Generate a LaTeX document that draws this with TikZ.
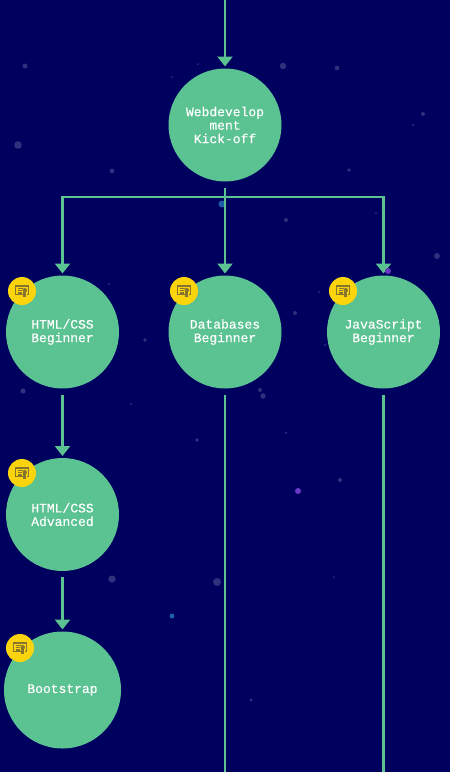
\documentclass[tikz,border=0pt]{standalone}
\usepackage{fontspec}
\usetikzlibrary{arrows.meta}
\setmonofont[FakeBold=0.2]{Liberation Mono}
\definecolor{sky}{HTML}{00005F}
\definecolor{dust}{HTML}{30307E}
\definecolor{leaf}{HTML}{5BC292}
\definecolor{gold}{HTML}{FBD40B}
\definecolor{glyph}{HTML}{85752F}
\definecolor{bluespeck}{HTML}{1C5FA8}
\definecolor{violetspeck}{HTML}{6A38C4}
\tikzset{
	course/.style={circle,fill=leaf,draw=none,text=white,align=center,minimum size=113pt,inner sep=0pt,outer sep=2pt,
		font=\fontsize{13}{13.5}\selectfont\ttfamily},
	badge/.style={circle,fill=gold,draw=none,minimum size=28pt,inner sep=0pt},
	link/.style={color=leaf,line width=2.4pt},
	arrowlink/.style={link,-{Triangle[width=15pt,length=10pt]}},
	certificate/.pic={
		\draw[glyph,line width=1.3pt] (1,3.5) -- (-6.5,3.5) -- (-6.5,-5) -- (6.5,-5) -- (6.5,3.5) -- (4.5,3.5);
		\draw[glyph,line width=1.2pt] (-4.5,-2.5) -- (1,-2.5) (-4.5,-0.2) -- (-0.5,-0.2) (-4.5,2) -- (-0.5,2);
		\fill[glyph] (2.8,-0.8) circle (2.2pt);
		\fill[glyph] (1.4,0) rectangle (4.2,6);
	}
}
\begin{document}
\begin{tikzpicture}[x=1pt,y=-1pt]
	\useasboundingbox (0,0) rectangle (450,772);
	\fill[sky] (0,0) rectangle (450,772);
	
	% background specks
	\foreach \px/\py/\pr in {25/66/2.5,283/66/3.2,337/68/2.3,18/145/3.8,112/171/2.4,349/170/1.8,423/114/2,413/125/1.2,172/77/1,198/64/1,286/220/2,376/213/1,437/256/3,109/284/1.2,145/340/1.8,295/313/2,319/292/1,325/345/1.2,23/391/2.7,131/404/1.2,260/390/2,263/396/2.6,197/440/1.8,286/433/1.2,340/480/2,112/579/3.6,217/582/4,334/577/1,251/700/1.6}
		\fill[dust] (\px,\py) circle (\pr pt);
	\fill[bluespeck] (222,204) circle (3.5pt);
	\fill[bluespeck] (172,616) circle (2.5pt);
	\fill[violetspeck] (298,491) circle (3pt);
	
	\node (KO)[course] at (225,125) {Webdevelop\\ment\\Kick-off};
	\node (HB)[course] at (62.5,332) {HTML/CSS\\Beginner};
	\node (DB)[course] at (225,332) {Databases\\Beginner};
	\node (JS)[course] at (383.5,332) {JavaScript\\Beginner};
	\node (HA)[course] at (62.5,514.5) {HTML/CSS\\Advanced};
	\node (BS)[course,minimum size=117pt] at (62.5,690) {Bootstrap};
	
	\node (HBb)[badge] at (22,291) {};
	\node (DBb)[badge] at (184,291) {};
	\node (JSb)[badge] at (343,291) {};
	\node (HAb)[badge] at (22,473) {};
	\node (BSb)[badge] at (20,648) {};
	\foreach \b in {HBb,DBb,JSb,HAb,BSb}
		\pic at (\b) {certificate};
	
	\coordinate (top) at (225,0);
	\coordinate (fork) at (225,197);
	\coordinate (DBend) at (225,772);
	\coordinate (JSend) at (383.5,772);
	
	\draw[arrowlink] (top)--(KO);
	\draw[link,shorten <=4pt] (KO)--(fork);
	\draw[arrowlink] (fork)--(DB);
	\draw[arrowlink] (fork)-|(HB.north);
	\draw[arrowlink] (fork)-|(JS.north);
	\draw[arrowlink,shorten <=4pt] (HB)--(HA);
	\draw[arrowlink,shorten <=4pt] (HA)--(BS);
	\draw[link,shorten <=4pt] (DB)--(DBend);
	\draw[link,shorten <=4pt] (JS)--(JSend);
	
	% this speck sits over the arrow tip
	\fill[violetspeck] (388,271) circle (3pt);
\end{tikzpicture}
\end{document}
